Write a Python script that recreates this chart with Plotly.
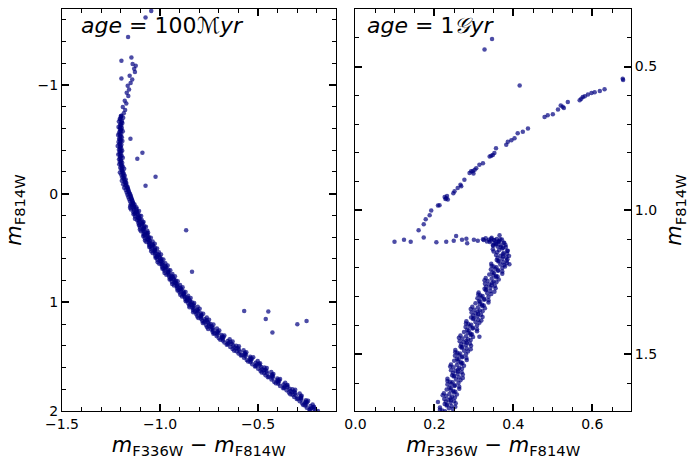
import plotly.graph_objects as go

# ---------------- age = 100 Myr panel: (m_F336W - m_F814W, m_F814W) ----------------
young_top = [(-1.146,-1.254),(-1.197,-1.223),(-1.140,-1.193),(-1.124,-1.177),(-1.132,-1.150),
             (-1.128,-1.120),(-1.155,-1.085),(-1.197,-1.061),(-1.142,-1.050),(-1.150,-1.020),
             (-1.165,-0.994),(-1.158,-0.960),(-1.170,-0.930),(-1.162,-0.900),(-1.180,-0.856),
             (-1.172,-0.830),(-1.190,-0.798),(-1.178,-0.770),(-1.185,-0.740),(-1.197,-0.718)]

young_outliers = [(-1.045,-1.682),(-1.074,-1.621),(-1.163,-1.443),(-1.151,-0.505),(-1.090,-0.376),
                  (-1.116,-0.321),(-1.023,-0.156),(-1.074,-0.073),(-0.867,0.337),(-0.837,0.718),
                  (-0.571,1.080),(-0.448,1.085),(-0.461,1.153),(-0.427,1.278),(-0.300,1.202),
                  (-0.253,1.172)]

young_vertical = [(-1.200,-0.715),(-1.188,-0.700),(-1.205,-0.690),(-1.195,-0.672),(-1.210,-0.665),
                  (-1.192,-0.650),(-1.203,-0.640),(-1.198,-0.628),(-1.212,-0.615),(-1.195,-0.605),
                  (-1.205,-0.595),(-1.200,-0.585),(-1.190,-0.575),(-1.208,-0.565),(-1.198,-0.552),
                  (-1.214,-0.540),(-1.203,-0.530),(-1.195,-0.520),(-1.209,-0.505),(-1.200,-0.495),
                  (-1.192,-0.485),(-1.212,-0.475),(-1.204,-0.462),(-1.197,-0.450),(-1.216,-0.440),
                  (-1.205,-0.430),(-1.198,-0.418),(-1.210,-0.405),(-1.193,-0.395),(-1.206,-0.385),
                  (-1.200,-0.372),(-1.213,-0.360),(-1.196,-0.350),(-1.204,-0.340),(-1.190,-0.330),
                  (-1.209,-0.318),(-1.199,-0.305),(-1.205,-0.295),(-1.193,-0.285),(-1.208,-0.272),
                  (-1.196,-0.262),(-1.190,-0.250),(-1.203,-0.240),(-1.183,-0.230),(-1.197,-0.218),
                  (-1.191,-0.205),(-1.205,-0.195),(-1.185,-0.185),(-1.198,-0.175),(-1.180,-0.165),
                  (-1.193,-0.152),(-1.187,-0.140),(-1.175,-0.130),(-1.195,-0.120),(-1.181,-0.108),
                  (-1.172,-0.098),(-1.188,-0.088),(-1.177,-0.075),(-1.166,-0.065),(-1.183,-0.055),
                  (-1.164,-0.045),(-1.175,-0.035),(-1.160,-0.022),(-1.170,-0.012),(-1.155,0.000),
                  (-1.166,0.010),(-1.150,0.022),(-1.162,0.030),(-1.146,0.042),(-1.157,0.052),
                  (-1.142,0.062),(-1.153,0.072),(-1.137,0.085),(-1.148,0.095)]

young_vertical_core = [(-1.199,-0.705),(-1.203,-0.683),(-1.197,-0.657),(-1.201,-0.633),(-1.204,-0.610),
                       (-1.199,-0.590),(-1.203,-0.570),(-1.206,-0.547),(-1.201,-0.525),(-1.205,-0.500),
                       (-1.202,-0.480),(-1.207,-0.457),(-1.201,-0.435),(-1.204,-0.412),(-1.200,-0.390),
                       (-1.206,-0.367),(-1.201,-0.345),(-1.203,-0.323),(-1.199,-0.300),(-1.200,-0.278),
                       (-1.197,-0.256),(-1.195,-0.234),(-1.193,-0.212),(-1.190,-0.190),(-1.187,-0.168),
                       (-1.184,-0.146),(-1.180,-0.124),(-1.176,-0.102),(-1.172,-0.080),(-1.167,-0.058),
                       (-1.162,-0.036),(-1.158,-0.014),(-1.152,0.008),(-1.148,0.030),(-1.145,0.050),
                       (-1.141,0.070),(-1.137,0.090)]

young_diag_a = [(-1.130,0.10),(-1.152,0.11),(-1.132,0.12),(-1.153,0.13),(-1.119,0.14),(-1.134,0.15),
                (-1.107,0.16),(-1.136,0.17),(-1.116,0.18),(-1.135,0.19),(-1.105,0.20),(-1.127,0.21),
                (-1.107,0.22),(-1.128,0.23),(-1.094,0.24),(-1.109,0.25),(-1.084,0.26),(-1.111,0.27),
                (-1.090,0.28),(-1.107,0.29),(-1.080,0.30),(-1.102,0.31),(-1.082,0.32),(-1.103,0.33),
                (-1.065,0.34),(-1.084,0.35),(-1.061,0.36),(-1.084,0.37),(-1.064,0.38),(-1.086,0.39),
                (-1.057,0.40),(-1.078,0.41),(-1.058,0.42),(-1.077,0.43),(-1.038,0.44),(-1.057,0.45),
                (-1.027,0.46),(-1.056,0.47),(-1.034,0.48),(-1.055,0.49),(-1.025,0.50),(-1.046,0.51),
                (-1.026,0.52),(-1.045,0.53),(-1.006,0.54),(-1.025,0.55),(-0.995,0.56),(-1.024,0.57),
                (-1.002,0.58),(-1.023,0.59),(-0.993,0.60),(-1.014,0.61),(-0.993,0.62),(-1.012,0.63),
                (-0.973,0.64),(-0.992,0.65),(-0.961,0.66),(-0.990,0.67),(-0.968,0.68),(-0.988,0.69),
                (-0.958,0.70),(-0.978,0.71),(-0.957,0.72),(-0.977,0.73),(-0.937,0.74),(-0.955,0.75),
                (-0.924,0.76),(-0.952,0.77),(-0.931,0.78),(-0.951,0.79),(-0.920,0.80),(-0.940,0.81),
                (-0.919,0.82),(-0.938,0.83),(-0.898,0.84),(-0.916,0.85),(-0.885,0.86),(-0.913,0.87),
                (-0.891,0.88),(-0.911,0.89),(-0.880,0.90),(-0.900,0.91),(-0.879,0.92),(-0.897,0.93),
                (-0.857,0.94),(-0.875,0.95),(-0.844,0.96),(-0.872,0.97),(-0.849,0.98),(-0.869,0.99),
                (-0.838,1.00),(-0.856,1.01),(-0.829,1.02),(-0.851,1.03),(-0.808,1.04),(-0.835,1.05),
                (-0.798,1.06),(-0.832,1.07),(-0.805,1.08),(-0.831,1.09),(-0.792,1.10),(-0.815,1.11),
                (-0.788,1.12),(-0.810,1.13),(-0.762,1.14),(-0.791,1.15),(-0.750,1.16),(-0.785,1.17),
                (-0.757,1.18),(-0.782,1.19),(-0.742,1.20),(-0.765,1.21),(-0.736,1.22),(-0.760,1.23),
                (-0.710,1.24),(-0.738,1.25),(-0.698,1.26),(-0.732,1.27),(-0.703,1.28),(-0.728,1.29),
                (-0.686,1.30),(-0.712,1.31),(-0.676,1.32),(-0.700,1.33),(-0.645,1.34),(-0.680,1.35),
                (-0.630,1.36),(-0.672,1.37),(-0.635,1.38),(-0.660,1.39),(-0.612,1.40),(-0.642,1.41),
                (-0.603,1.42),(-0.630,1.43),(-0.574,1.44),(-0.610,1.45),(-0.560,1.46),(-0.600,1.47),
                (-0.562,1.48),(-0.588,1.49),(-0.540,1.50),(-0.572,1.51),(-0.532,1.52),(-0.558,1.53),
                (-0.502,1.54),(-0.540,1.55),(-0.490,1.56),(-0.530,1.57),(-0.492,1.58),(-0.516,1.59),
                (-0.468,1.60),(-0.500,1.61),(-0.462,1.62),(-0.488,1.63),(-0.433,1.64),(-0.470,1.65),
                (-0.422,1.66),(-0.462,1.67),(-0.425,1.68),(-0.450,1.69),(-0.402,1.70),(-0.432,1.71),
                (-0.392,1.72),(-0.418,1.73),(-0.362,1.74),(-0.398,1.75),(-0.350,1.76),(-0.388,1.77),
                (-0.350,1.78),(-0.372,1.79),(-0.325,1.80),(-0.355,1.81),(-0.316,1.82),(-0.343,1.83),
                (-0.288,1.84),(-0.325,1.85),(-0.278,1.86),(-0.316,1.87),(-0.280,1.88),(-0.303,1.89),
                (-0.256,1.90),(-0.288,1.91),(-0.250,1.92),(-0.275,1.93),(-0.222,1.94),(-0.260,1.95),
                (-0.215,1.96),(-0.252,1.97),(-0.216,1.98),(-0.238,1.99),(-0.195,2.00)]

young_diag_b = [(-1.143,0.105),(-1.121,0.125),(-1.148,0.145),(-1.116,0.165),(-1.129,0.185),
                (-1.096,0.205),(-1.110,0.225),(-1.117,0.245),(-1.088,0.265),(-1.105,0.285),
                (-1.072,0.305),(-1.085,0.325),(-1.097,0.345),(-1.066,0.365),(-1.080,0.385),
                (-1.047,0.405),(-1.060,0.425),(-1.070,0.445),(-1.038,0.465),(-1.050,0.485),
                (-1.015,0.505),(-1.028,0.525),(-1.038,0.545),(-1.006,0.565),(-1.018,0.585),
                (-0.983,0.605),(-0.995,0.625),(-1.004,0.645),(-0.972,0.665),(-0.983,0.685),
                (-0.948,0.705),(-0.959,0.725),(-0.968,0.745),(-0.935,0.765),(-0.946,0.785),
                (-0.910,0.805),(-0.921,0.825),(-0.929,0.845),(-0.896,0.865),(-0.906,0.885),
                (-0.870,0.905),(-0.881,0.925),(-0.888,0.945),(-0.855,0.965),(-0.864,0.985),
                (-0.826,1.005),(-0.838,1.025),(-0.850,1.045),(-0.810,1.065),(-0.823,1.085),
                (-0.780,1.105),(-0.793,1.125),(-0.805,1.145),(-0.762,1.165),(-0.775,1.185),
                (-0.728,1.205),(-0.742,1.225),(-0.755,1.245),(-0.708,1.265),(-0.722,1.285),
                (-0.672,1.305),(-0.683,1.325),(-0.693,1.345),(-0.641,1.365),(-0.654,1.385),
                (-0.598,1.405),(-0.611,1.425),(-0.622,1.445),(-0.568,1.465),(-0.583,1.485),
                (-0.525,1.505),(-0.539,1.525),(-0.551,1.545),(-0.496,1.565),(-0.512,1.585),
                (-0.456,1.605),(-0.470,1.625),(-0.482,1.645),(-0.428,1.665),(-0.445,1.685),
                (-0.388,1.705),(-0.400,1.725),(-0.410,1.745),(-0.353,1.765),(-0.368,1.785),
                (-0.311,1.805),(-0.325,1.825),(-0.336,1.845),(-0.282,1.865),(-0.298,1.885),
                (-0.245,1.905),(-0.259,1.925),(-0.270,1.945),(-0.218,1.965),(-0.236,1.985)]

young_diag_core = [(-1.133,0.115),(-1.136,0.135),(-1.122,0.155),(-1.125,0.175),(-1.112,0.195),
                   (-1.115,0.215),(-1.102,0.235),(-1.105,0.255),(-1.092,0.275),(-1.094,0.295),
                   (-1.083,0.315),(-1.086,0.335),(-1.074,0.355),(-1.076,0.375),(-1.064,0.395),
                   (-1.066,0.415),(-1.052,0.435),(-1.053,0.455),(-1.039,0.475),(-1.040,0.495),
                   (-1.026,0.515),(-1.027,0.535),(-1.013,0.555),(-1.014,0.575),(-1.001,0.595),
                   (-1.001,0.615),(-0.987,0.635),(-0.987,0.655),(-0.973,0.675),(-0.973,0.695),
                   (-0.958,0.715),(-0.958,0.735),(-0.943,0.755),(-0.943,0.775),(-0.928,0.795),
                   (-0.927,0.815),(-0.912,0.835),(-0.911,0.855),(-0.896,0.875),(-0.895,0.895),
                   (-0.880,0.915),(-0.878,0.935),(-0.863,0.955),(-0.861,0.975),(-0.846,0.995),
                   (-0.845,1.015),(-0.829,1.035),(-0.828,1.055),(-0.812,1.075),(-0.811,1.095),
                   (-0.792,1.115),(-0.791,1.135),(-0.772,1.155),(-0.771,1.175),(-0.752,1.195),
                   (-0.751,1.215),(-0.731,1.235),(-0.730,1.255),(-0.709,1.275),(-0.708,1.295),
                   (-0.684,1.315),(-0.680,1.335),(-0.655,1.355),(-0.651,1.375),(-0.627,1.395),
                   (-0.622,1.415),(-0.598,1.435),(-0.593,1.455),(-0.569,1.475),(-0.565,1.495),
                   (-0.540,1.515),(-0.536,1.535),(-0.512,1.555),(-0.508,1.575),(-0.484,1.595),
                   (-0.480,1.615),(-0.457,1.635),(-0.453,1.655),(-0.430,1.675),(-0.426,1.695),
                   (-0.401,1.715),(-0.396,1.735),(-0.370,1.755),(-0.365,1.775),(-0.339,1.795),
                   (-0.335,1.815),(-0.311,1.835),(-0.308,1.855),(-0.284,1.875),(-0.280,1.895),
                   (-0.258,1.915),(-0.255,1.935),(-0.233,1.955),(-0.230,1.975),(-0.208,1.995)]

# ---------------- age = 1 Gyr panel ----------------
old_ms_a = [(0.367,1.100),(0.342,1.105),(0.362,1.110),(0.352,1.115),(0.380,1.120),(0.360,1.125),
            (0.374,1.130),(0.348,1.135),(0.384,1.140),(0.359,1.145),(0.384,1.150),(0.356,1.155),
            (0.374,1.160),(0.360,1.165),(0.385,1.170),(0.363,1.175),(0.374,1.180),(0.344,1.185),
            (0.377,1.190),(0.350,1.195),(0.372,1.200),(0.343,1.205),(0.361,1.210),(0.347,1.215),
            (0.372,1.220),(0.349,1.225),(0.360,1.230),(0.330,1.235),(0.363,1.240),(0.335,1.245),
            (0.357,1.250),(0.328,1.255),(0.345,1.260),(0.331,1.265),(0.355,1.270),(0.332,1.275),
            (0.342,1.280),(0.312,1.285),(0.344,1.290),(0.316,1.295),(0.337,1.300),(0.309,1.305),
            (0.326,1.310),(0.313,1.315),(0.337,1.320),(0.315,1.325),(0.325,1.330),(0.296,1.335),
            (0.328,1.340),(0.301,1.345),(0.322,1.350),(0.294,1.355),(0.311,1.360),(0.298,1.365),
            (0.322,1.370),(0.300,1.375),(0.311,1.380),(0.281,1.385),(0.314,1.390),(0.286,1.395),
            (0.308,1.400),(0.279,1.405),(0.297,1.410),(0.283,1.415),(0.308,1.420),(0.285,1.425),
            (0.295,1.430),(0.266,1.435),(0.298,1.440),(0.271,1.445),(0.292,1.450),(0.264,1.455),
            (0.282,1.460),(0.268,1.465),(0.293,1.470),(0.271,1.475),(0.282,1.480),(0.253,1.485),
            (0.285,1.490),(0.258,1.495),(0.280,1.500),(0.252,1.505),(0.270,1.510),(0.257,1.515),
            (0.282,1.520),(0.260,1.525),(0.271,1.530),(0.242,1.535),(0.275,1.540),(0.248,1.545),
            (0.270,1.550),(0.242,1.555),(0.260,1.560),(0.247,1.565),(0.272,1.570),(0.251,1.575),
            (0.262,1.580),(0.233,1.585),(0.266,1.590),(0.239,1.595),(0.261,1.600),(0.233,1.605),
            (0.251,1.610),(0.238,1.615),(0.263,1.620),(0.241,1.625),(0.253,1.630),(0.224,1.635),
            (0.257,1.640),(0.230,1.645),(0.252,1.650),(0.225,1.655),(0.242,1.660),(0.229,1.665),
            (0.254,1.670),(0.232,1.675),(0.243,1.680),(0.214,1.685),(0.247,1.690),(0.220,1.695)]

old_ms_b = [(0.351,1.1025),(0.375,1.1125),(0.349,1.1225),(0.372,1.1325),(0.350,1.1425),
            (0.374,1.1525),(0.382,1.1625),(0.358,1.1725),(0.384,1.1825),(0.345,1.1925),
            (0.354,1.2025),(0.372,1.2125),(0.339,1.2225),(0.356,1.2325),(0.327,1.2425),
            (0.346,1.2525),(0.353,1.2625),(0.327,1.2725),(0.352,1.2825),(0.311,1.2925),
            (0.319,1.3025),(0.337,1.3125),(0.304,1.3225),(0.321,1.3325),(0.292,1.3425),
            (0.310,1.3525),(0.318,1.3625),(0.293,1.3725),(0.319,1.3825),(0.280,1.3925),
            (0.290,1.4025),(0.308,1.4125),(0.275,1.4225),(0.292,1.4325),(0.262,1.4425),
            (0.281,1.4525),(0.290,1.4625),(0.266,1.4725),(0.292,1.4825),(0.253,1.4925),
            (0.262,1.5025),(0.281,1.5125),(0.250,1.5225),(0.268,1.5325),(0.240,1.5425),
            (0.260,1.5525),(0.269,1.5625),(0.245,1.5725),(0.272,1.5825),(0.233,1.5925),
            (0.243,1.6025),(0.263,1.6125),(0.231,1.6225),(0.249,1.6325),(0.221,1.6425),
            (0.241,1.6525),(0.250,1.6625),(0.226,1.6725),(0.253,1.6825),(0.214,1.6925)]

old_ms_core = [(0.362,1.1075),(0.357,1.1175),(0.368,1.1275),(0.364,1.1375),(0.375,1.1475),
               (0.367,1.1575),(0.372,1.1675),(0.362,1.1775),(0.367,1.1875),(0.357,1.1975),
               (0.362,1.2075),(0.351,1.2175),(0.356,1.2275),(0.345,1.2375),(0.350,1.2475),
               (0.338,1.2575),(0.342,1.2675),(0.330,1.2775),(0.334,1.2875),(0.322,1.2975),
               (0.327,1.3075),(0.316,1.3175),(0.321,1.3275),(0.310,1.3375),(0.315,1.3475),
               (0.304,1.3575),(0.309,1.3675),(0.298,1.3775),(0.304,1.3875),(0.293,1.3975),
               (0.298,1.4075),(0.287,1.4175),(0.291,1.4275),(0.280,1.4375),(0.285,1.4475),
               (0.274,1.4575),(0.280,1.4675),(0.269,1.4775),(0.275,1.4875),(0.265,1.4975),
               (0.271,1.5075),(0.261,1.5175),(0.267,1.5275),(0.257,1.5375),(0.263,1.5475),
               (0.253,1.5575),(0.259,1.5675),(0.249,1.5775),(0.255,1.5875),(0.246,1.5975),
               (0.252,1.6075),(0.242,1.6175),(0.248,1.6275),(0.238,1.6375),(0.245,1.6475),
               (0.235,1.6575),(0.241,1.6675),(0.231,1.6775),(0.237,1.6875),(0.227,1.6975)]

old_turnoff = [(0.330,1.097),(0.338,1.102),(0.345,1.095),(0.352,1.104),(0.358,1.099),
               (0.364,1.108),(0.371,1.101),(0.377,1.112),(0.325,1.103),(0.340,1.110),
               (0.356,1.115),(0.368,1.121),(0.381,1.127),(0.386,1.140),(0.389,1.158),
               (0.383,1.175),(0.390,1.187),(0.379,1.195),(0.348,1.120),(0.333,1.108)]

old_subgiant = [(0.099,1.109),(0.123,1.102),(0.140,1.109),(0.173,1.094),(0.205,1.111),
                (0.230,1.109),(0.249,1.105),(0.255,1.089),(0.270,1.102),(0.281,1.098),
                (0.283,1.114),(0.300,1.102),(0.310,1.105),(0.323,1.100),(0.344,1.098),
                (0.365,1.086)]

old_giant = [(0.160,1.069),(0.173,1.048),(0.178,1.031),(0.188,1.017),(0.192,1.000),(0.209,0.983),
             (0.213,0.982),(0.226,0.953),(0.234,0.962),(0.230,0.958),(0.228,0.960),(0.232,0.950),
             (0.248,0.940),(0.251,0.933),(0.259,0.922),(0.266,0.911),(0.268,0.916),(0.276,0.893),
             (0.289,0.870),(0.293,0.864),(0.297,0.864),(0.299,0.872),(0.302,0.859),(0.306,0.853),
             (0.314,0.841),(0.323,0.836),(0.340,0.813),(0.344,0.810),(0.348,0.807),(0.352,0.800),
             (0.356,0.784),(0.382,0.772),(0.386,0.761),(0.395,0.756),(0.403,0.749),(0.411,0.732),
             (0.424,0.727),(0.437,0.715),(0.479,0.675),(0.487,0.669),(0.500,0.666),(0.513,0.649),
             (0.520,0.635),(0.525,0.640),(0.528,0.644),(0.538,0.623),(0.568,0.617),(0.572,0.612),
             (0.576,0.606),(0.581,0.603),(0.589,0.597),(0.598,0.592),(0.606,0.589),(0.619,0.585),
             (0.631,0.579),(0.677,0.542),(0.678,0.547)]

old_outliers = [(0.327,0.441),(0.346,0.404),(0.416,0.566),(0.314,1.439),(0.209,1.666)]

young = (young_top + young_outliers + young_vertical + young_vertical_core
         + young_diag_a + young_diag_b + young_diag_core)
old = old_ms_a + old_ms_b + old_ms_core + old_turnoff + old_subgiant + old_giant + old_outliers

FONT = "DejaVu Sans"
MARK = dict(size=4.5, color="rgba(0,0,128,0.7)", line=dict(width=0))

fig = go.Figure()
fig.add_trace(go.Scatter(x=[p[0] for p in young], y=[p[1] for p in young], mode="markers",
                         marker=MARK, xaxis="x", yaxis="y", showlegend=False, hoverinfo="skip"))
fig.add_trace(go.Scatter(x=[p[0] for p in old], y=[p[1] for p in old], mode="markers",
                         marker=MARK, xaxis="x2", yaxis="y2", showlegend=False, hoverinfo="skip"))

def ax(**kw):
    d = dict(showline=True, linecolor="black", linewidth=1, mirror="ticks", ticks="inside",
             ticklen=7, tickwidth=1.6, tickcolor="black", showgrid=False, zeroline=False,
             tickfont=dict(family=FONT, size=14, color="black"))
    d.update(kw)
    return d

def minor(dt):
    return dict(dtick=dt, tick0=0, ticks="inside", ticklen=4, tickwidth=1, tickcolor="black")

xlabel = "<i>m</i><sub>F336W</sub> − <i>m</i><sub>F814W</sub>"
ylabel = "<i>m</i><sub>F814W</sub>"
tfont = dict(family=FONT, size=21, color="black")

fig.update_layout(
    width=690, height=460, margin=dict(l=62, r=56, t=8, b=47),
    paper_bgcolor="white", plot_bgcolor="white", font=dict(family=FONT, color="black"),
    xaxis=ax(domain=[0, 0.4808], range=[-1.5, -0.105], dtick=0.5, tick0=0, tickformat=".1f",
             minor=minor(0.1), anchor="y", title=dict(text=xlabel, font=tfont, standoff=6)),
    yaxis=ax(range=[2.0, -1.7], dtick=1, tick0=0, minor=minor(0.2), anchor="x",
             title=dict(text=ylabel, font=tfont, standoff=10)),
    xaxis2=ax(domain=[0.5157, 1], range=[0, 0.698], dtick=0.2, tick0=0, tickformat=".1f",
              minor=minor(0.05), anchor="y2", title=dict(text=xlabel, font=tfont, standoff=6)),
    yaxis2=ax(range=[1.697, 0.3], dtick=0.5, tick0=0, tickformat=".1f", minor=minor(0.1),
              anchor="x2", side="right", title=dict(text=ylabel, font=tfont, standoff=10)),
    annotations=[
        dict(text="<i>age</i> = 100<i>ℳyr</i>", xref="x domain", yref="y domain",
             x=0.062, y=0.958, xanchor="left", yanchor="middle", showarrow=False,
             font=dict(family=FONT, size=22, color="black")),
        dict(text="<i>age</i> = 1<i>𝒢yr</i>", xref="x2 domain", yref="y2 domain",
             x=0.035, y=0.958, xanchor="left", yanchor="middle", showarrow=False,
             font=dict(family=FONT, size=22, color="black")),
    ],
)

fig.write_html("out.html")
